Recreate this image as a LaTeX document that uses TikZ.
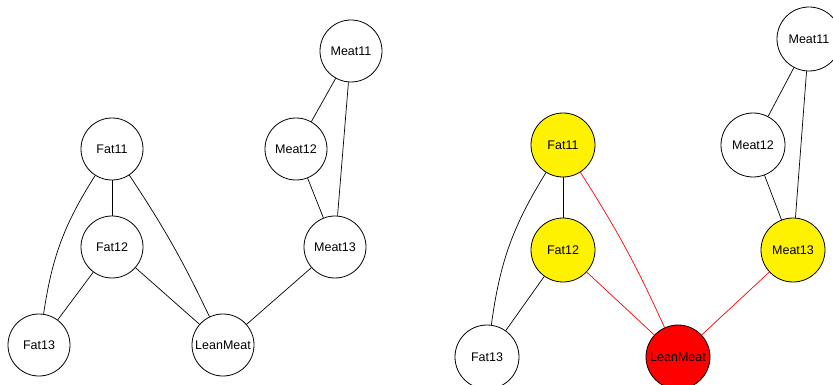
\documentclass[tikz,border=0pt]{standalone}
\usepackage{fontspec}
\setmainfont{Liberation Sans}
\begin{document}
\begin{tikzpicture}[x=1pt,y=-1pt,
  var/.style={draw,circle,minimum size=62pt,inner sep=0pt,line width=0.8pt,
    font=\fontsize{12.5}{14}\selectfont},
  bigvar/.style={var,minimum size=64pt},
  found/.style={fill=yellow},
  given/.style={fill=red},
  link/.style={line width=0.7pt},
  hotlink/.style={link,draw=red}]
  \useasboundingbox (0,0) rectangle (833,385);
  % prior network
  \node[var] (lm11) at (351,51) {Meat11};
  \node[var] (lm12) at (296,149) {Meat12};
  \node[var] (lm13) at (335,247) {Meat13};
  \node[var] (lf11) at (112,149) {Fat11};
  \node[var] (lf12) at (112,247) {Fat12};
  \node[var] (lf13) at (39,345) {Fat13};
  \node[var] (llean) at (223,345) {LeanMeat};
  \draw[link] (lm11) -- (lm12);
  \draw[link] (lm11) -- (lm13);
  \draw[link] (lm12) -- (lm13);
  \draw[link] (lf11) -- (lf12);
  \draw[link] (lf11) to[bend right=12] (lf13);
  \draw[link] (lf11) to[bend left=4] (llean);
  \draw[link] (lf12) -- (lf13);
  \draw[link] (lf12) -- (llean);
  \draw[link] (lm13) -- (llean);
  % after evidence on LeanMeat
  \node[bigvar] (rm11) at (809,39) {Meat11};
  \node[bigvar] (rm12) at (753,145) {Meat12};
  \node[bigvar,found] (rm13) at (793,250) {Meat13};
  \node[bigvar,found] (rf11) at (563,145) {Fat11};
  \node[bigvar,found] (rf12) at (563,250) {Fat12};
  \node[bigvar] (rf13) at (487,357) {Fat13};
  \node[bigvar,given] (rlean) at (678,357) {LeanMeat};
  \draw[link] (rm11) -- (rm12);
  \draw[link] (rm11) -- (rm13);
  \draw[link] (rm12) -- (rm13);
  \draw[link] (rf11) -- (rf12);
  \draw[link] (rf11) to[bend right=12] (rf13);
  \draw[hotlink] (rf11) to[bend left=4] (rlean);
  \draw[link] (rf12) -- (rf13);
  \draw[hotlink] (rf12) -- (rlean);
  \draw[hotlink] (rm13) -- (rlean);
\end{tikzpicture}
\end{document}
